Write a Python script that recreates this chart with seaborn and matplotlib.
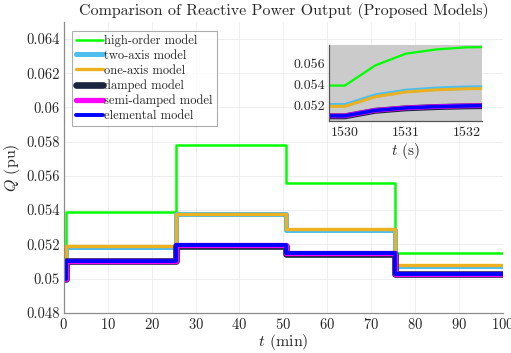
import numpy as np
import pandas as pd
import seaborn as sns
import matplotlib
matplotlib.use("Agg")
import matplotlib.pyplot as plt

# ---- data -------------------------------------------------------------
models = ["high-order model", "two-axis model", "one-axis model",
          "damped model", "semi-damped model", "elemental model"]
colors = ["#00ff00", "#4dbeee", "#edb120", "#1a2540", "#ff00ff", "#0000ff"]
widths = [1.8, 3.6, 2.4, 4.8, 3.8, 2.8]

# load-change instants (min) and Q after each instant (step-post)
t_min = [0.0, 0.5, 25.5, 50.5, 75.5, 100.0]
q_high = [0.0500, 0.0539, 0.0578, 0.0556, 0.0515, 0.0515]
q_two = [0.0500, 0.05187, 0.05375, 0.05285, 0.05075, 0.05075]
q_one = [0.0500, 0.05192, 0.05380, 0.05290, 0.05080, 0.05080]
q_damp = [0.0500, 0.05103, 0.05193, 0.05146, 0.05026, 0.05026]
q_semi = [0.0500, 0.05105, 0.05195, 0.05148, 0.05028, 0.05028]
q_elem = [0.0500, 0.05105, 0.05195, 0.05148, 0.05028, 0.05028]

# zoom around the load step at t = 1530 s
t_sec = [1529.70, 1530.0, 1530.5, 1531.0, 1531.5, 1532.0, 1532.30]
z_high = [0.0539, 0.0539, 0.0558, 0.0569, 0.0573, 0.0575, 0.05752]
z_two = [0.05205, 0.05205, 0.05295, 0.05340, 0.05360, 0.05370, 0.05372]
z_one = [0.05195, 0.05195, 0.05285, 0.05330, 0.05350, 0.05360, 0.05362]
z_damp = [0.05101, 0.05101, 0.05153, 0.05176, 0.05188, 0.05195, 0.05197]
z_semi = [0.05105, 0.05105, 0.05157, 0.05180, 0.05192, 0.05199, 0.05201]
z_elem = [0.05105, 0.05105, 0.05157, 0.05180, 0.05192, 0.05199, 0.05201]

y_ticks = [0.048, 0.05, 0.052, 0.054, 0.056, 0.058, 0.06, 0.062, 0.064]
y_labels = ["0.048", "0.05", "0.052", "0.054", "0.056", "0.058", "0.06", "0.062", "0.064"]
x_ticks = [0, 10, 20, 30, 40, 50, 60, 70, 80, 90, 100]
zx_ticks = [1530, 1531, 1532]
zy_ticks = [0.052, 0.054, 0.056]
zy_labels = ["0.052", "0.054", "0.056"]

main_series = [q_high, q_two, q_one, q_damp, q_semi, q_elem]
zoom_series = [z_high, z_two, z_one, z_damp, z_semi, z_elem]

main_df = pd.concat([pd.DataFrame({"t": t_min, "Q": q, "model": m})
                     for m, q in zip(models, main_series)], ignore_index=True)
zoom_df = pd.concat([pd.DataFrame({"t": t_sec, "Q": q, "model": m})
                     for m, q in zip(models, zoom_series)], ignore_index=True)

# ---- style ------------------------------------------------------------
sns.set_theme(style="white")
plt.rcParams["font.family"] = ["cmr10", "DejaVu Serif"]
plt.rcParams["mathtext.fontset"] = "cm"
plt.rcParams["axes.formatter.use_mathtext"] = True
plt.rcParams["axes.unicode_minus"] = False
spine_col = "#8c8c8c"
text_col = "#262626"

fig = plt.figure(figsize=(5.11, 3.53), dpi=100)
ax = fig.add_axes([0.125, 0.114, 0.859, 0.824])

for m, c, w in zip(models, colors, widths):
    sns.lineplot(data=main_df[main_df["model"] == m], x="t", y="Q",
                 color=c, linewidth=w, drawstyle="steps-post",
                 label=m, ax=ax, estimator=None, sort=False)

ax.set_xlim(0, 100)
ax.set_ylim(0.048, 0.065)
ax.set_xticks(x_ticks)
ax.set_yticks(y_ticks)
ax.set_yticklabels(y_labels)
ax.grid(True, color="#ebebeb", linewidth=0.6)
ax.tick_params(direction="in", length=3.5, width=0.7, colors=spine_col,
               labelcolor=text_col, labelsize=10.5, pad=3)
for s in ["top", "right"]:
    ax.spines[s].set_visible(False)
for s in ["left", "bottom"]:
    ax.spines[s].set_color(spine_col)
    ax.spines[s].set_linewidth(0.9)
ax.set_xlabel("$t$ (min)", fontsize=11.5, color=text_col, labelpad=0)
ax.set_ylabel("$Q$ (pu)", fontsize=11.5, color=text_col, labelpad=3)
ax.set_title("Comparison of Reactive Power Output (Proposed Models)",
             fontsize=11.5, color=text_col, pad=5)

leg = ax.legend(loc="upper left", bbox_to_anchor=(0.018, 0.97), fontsize=9.0,
                handlelength=2.2, handletextpad=0.1, labelspacing=0.22,
                borderpad=0.3, borderaxespad=0.0, frameon=True, fancybox=False)
leg.get_frame().set_edgecolor("#999999")
leg.get_frame().set_linewidth(0.8)
for txt in leg.get_texts():
    txt.set_color(text_col)

# ---- inset ------------------------------------------------------------
axi = fig.add_axes([0.644, 0.657, 0.299, 0.215])
axi.set_facecolor("#cbcbcb")
for m, c, w in zip(models, colors, widths):
    sns.lineplot(data=zoom_df[zoom_df["model"] == m], x="t", y="Q",
                 color=c, linewidth=w * 0.9, ax=axi, legend=False,
                 estimator=None, sort=False)
axi.set_xlim(1529.74, 1532.25)
axi.set_ylim(0.05056, 0.0577)
axi.set_xticks(zx_ticks)
axi.set_yticks(zy_ticks)
axi.set_yticklabels(zy_labels)
axi.tick_params(direction="in", length=3, width=0.7, colors=spine_col,
                labelcolor=text_col, labelsize=10, pad=3)
for s in ["top", "right"]:
    axi.spines[s].set_visible(False)
for s in ["left", "bottom"]:
    axi.spines[s].set_color("#555555")
    axi.spines[s].set_linewidth(0.9)
axi.set_xlabel("$t$ (s)", fontsize=11, color=text_col, labelpad=1)
axi.set_ylabel("")

fig.savefig("out.png", dpi=100)
